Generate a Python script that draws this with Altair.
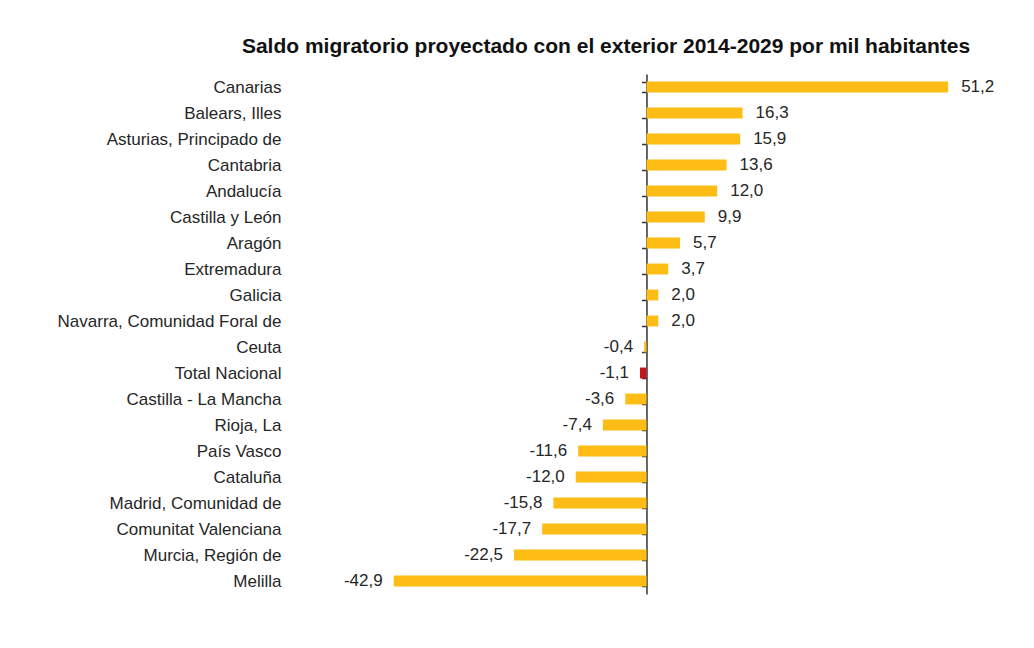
import altair as alt
import pandas as pd

regions = ["Canarias", "Balears, Illes", "Asturias, Principado de", "Cantabria",
           "Andalucía", "Castilla y León", "Aragón", "Extremadura", "Galicia",
           "Navarra, Comunidad Foral de", "Ceuta", "Total Nacional",
           "Castilla - La Mancha", "Rioja, La", "País Vasco", "Cataluña",
           "Madrid, Comunidad de", "Comunitat Valenciana", "Murcia, Región de", "Melilla"]
values = [51.2, 16.3, 15.9, 13.6, 12.0, 9.9, 5.7, 3.7, 2.0, 2.0,
          -0.4, -1.1, -3.6, -7.4, -11.6, -12.0, -15.8, -17.7, -22.5, -42.9]
highlight = ["Total Nacional"]

df = pd.DataFrame({"region": regions, "value": values})
df["label"] = df["value"].map(lambda v: f"{v:.1f}".replace(".", ","))
df["kind"] = df["region"].map(lambda r: "total" if r in highlight else "region")

W, H = 710, 520
DMIN, DMAX = -60.5, 60.0
zero_px = W * (0 - DMIN) / (DMAX - DMIN)
FONT = "Liberation Sans"
TXT = "#262626"

xscale = alt.Scale(domain=[DMIN, DMAX], nice=False, zero=False)
yscale = alt.Scale(paddingInner=0.58, paddingOuter=0.29)

base = alt.Chart(df)

bars = base.mark_bar().encode(
    x=alt.X("value:Q", scale=xscale, axis=None),
    y=alt.Y("region:N", sort=None, scale=yscale,
            axis=alt.Axis(title=None, domain=True, domainColor="#333", domainWidth=1.5,
                          ticks=True, tickColor="#333", tickSize=5, tickWidth=1.5,
                          tickBand="extent", offset=-zero_px,
                          labelPadding=zero_px + 4, labelFont=FONT,
                          labelFontSize=17, labelColor=TXT, labelLimit=400)),
    color=alt.Color("kind:N", scale=alt.Scale(domain=["region", "total"],
                                              range=["#FDBD15", "#C0161E"]), legend=None),
)

pos = base.transform_filter("datum.value >= 0").mark_text(
    align="left", baseline="middle", dx=13, font=FONT, fontSize=17, color=TXT
).encode(x="value:Q", y=alt.Y("region:N", sort=None), text="label:N")

neg = base.transform_filter("datum.value < 0").mark_text(
    align="right", baseline="middle", dx=-11, font=FONT, fontSize=17, color=TXT
).encode(x="value:Q", y=alt.Y("region:N", sort=None), text="label:N")

chart = alt.layer(bars, pos, neg).properties(
    width=W, height=H,
    title=alt.TitleParams("Saldo migratorio proyectado con el exterior 2014-2029 por mil habitantes",
                          font=FONT, fontSize=21, fontWeight="bold", color="#111",
                          anchor="middle", dx=-39, offset=8),
    autosize=alt.AutoSizeParams(type="none"),
    padding={"left": 282, "top": 66, "right": 24, "bottom": 40},
).configure(background="white").configure_view(stroke=None, strokeWidth=0)

chart.save("out.html", embed_options={"renderer": "svg", "actions": False})
